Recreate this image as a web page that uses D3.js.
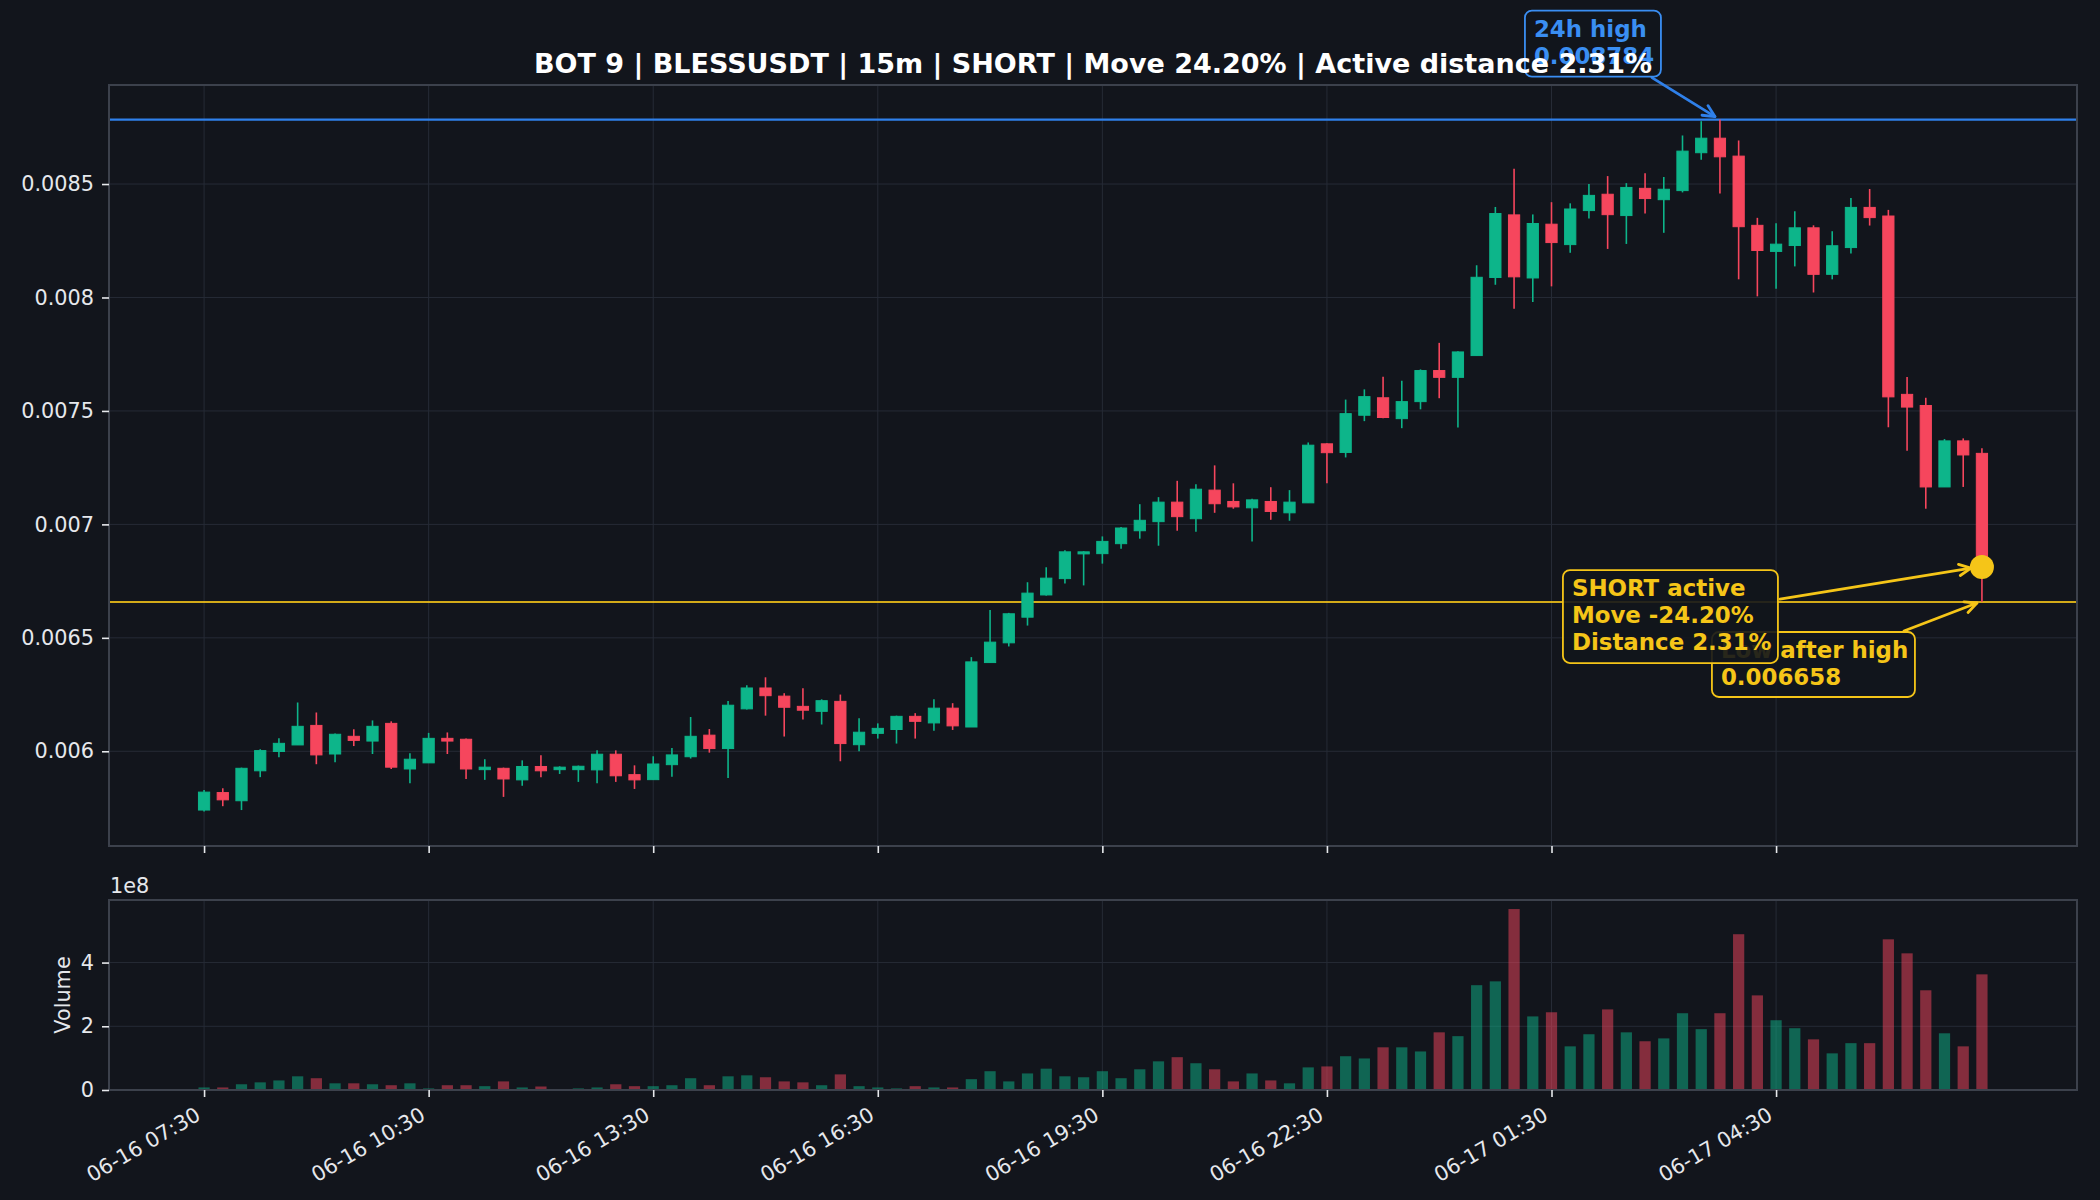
<!DOCTYPE html>
<html>
<head>
<meta charset="utf-8">
<script src="https://cdn.jsdelivr.net/npm/d3@7"></script>
<style>
  body { margin: 0; background: #12151c; }
  text { font-family: "DejaVu Sans", sans-serif; }
</style>
</head>
<body>
<div id="chart"></div>
<script>
/* BLESSUSDT 15m candles + volume, short setup */

// ---- data ----
const startTime = "2025-06-16 07:30";
const stepMinutes = 15;

const opens = [0.005741,0.005818,0.005782,0.005914,0.005999,0.006028,0.006114,0.005988,0.006066,0.006045,
  0.006123,0.005922,0.005949,0.006057,0.006053,0.005919,0.005925,0.005874,0.005933,0.005919,
  0.005919,0.005918,0.005987,0.005897,0.005875,0.005941,0.005976,0.006071,0.006012,0.006187,
  0.006279,0.006243,0.006198,0.006176,0.006220,0.006029,0.006079,0.006096,0.006154,0.006125,
  0.006190,0.006107,0.006391,0.006478,0.006591,0.006689,0.006761,0.006870,0.006871,0.006915,
  0.006972,0.007012,0.007098,0.007025,0.007151,0.007101,0.007073,0.007101,0.007051,0.007095,
  0.007355,0.007317,0.007481,0.007558,0.007466,0.007541,0.007678,0.007648,0.007744,0.008088,
  0.008364,0.008086,0.008323,0.008233,0.008383,0.008455,0.008361,0.008481,0.008431,0.008471,
  0.008638,0.008702,0.008623,0.008318,0.008203,0.008229,0.008307,0.008102,0.008220,0.008397,
  0.008359,0.007573,0.007524,0.007165,0.007368,0.007313];
const highs = [0.005829,0.005837,0.005928,0.006009,0.006057,0.006215,0.006171,0.006078,0.006097,0.006136,
  0.006132,0.005991,0.006081,0.006083,0.006056,0.005965,0.005928,0.005960,0.005982,0.005934,
  0.005937,0.006004,0.006004,0.005938,0.005978,0.006015,0.006151,0.006098,0.006222,0.006291,
  0.006326,0.006256,0.006278,0.006229,0.006250,0.006146,0.006123,0.006157,0.006168,0.006229,
  0.006212,0.006415,0.006623,0.006610,0.006745,0.006811,0.006886,0.006882,0.006947,0.006988,
  0.007089,0.007120,0.007192,0.007177,0.007260,0.007181,0.007113,0.007164,0.007151,0.007361,
  0.007358,0.007550,0.007595,0.007651,0.007633,0.007683,0.007800,0.007763,0.008142,0.008399,
  0.008567,0.008366,0.008420,0.008415,0.008500,0.008535,0.008504,0.008548,0.008531,0.008714,
  0.008777,0.008784,0.008692,0.008351,0.008327,0.008380,0.008318,0.008292,0.008438,0.008478,
  0.008386,0.007650,0.007558,0.007376,0.007379,0.007335];
const lows = [0.005735,0.005758,0.005741,0.005886,0.005974,0.006028,0.005943,0.005952,0.006023,0.005988,
  0.005922,0.005859,0.005949,0.005988,0.005878,0.005874,0.005799,0.005848,0.005886,0.005900,
  0.005865,0.005859,0.005865,0.005834,0.005875,0.005888,0.005968,0.005994,0.005882,0.006184,
  0.006157,0.006065,0.006140,0.006118,0.005956,0.006000,0.006056,0.006034,0.006056,0.006091,
  0.006094,0.006107,0.006391,0.006462,0.006554,0.006686,0.006739,0.006731,0.006827,0.006893,
  0.006937,0.006906,0.006972,0.006968,0.007051,0.007069,0.006924,0.007020,0.007016,0.007095,
  0.007181,0.007295,0.007455,0.007468,0.007424,0.007507,0.007556,0.007427,0.007744,0.008056,
  0.007950,0.007980,0.008049,0.008197,0.008348,0.008214,0.008236,0.008370,0.008285,0.008463,
  0.008607,0.008458,0.008080,0.008005,0.008039,0.008137,0.008022,0.008080,0.008194,0.008317,
  0.007428,0.007324,0.007069,0.007165,0.007165,0.006658];
const closes = [0.005820,0.005786,0.005925,0.006003,0.006035,0.006110,0.005984,0.006075,0.006048,0.006110,
  0.005930,0.005965,0.006057,0.006045,0.005922,0.005930,0.005878,0.005933,0.005914,0.005930,
  0.005934,0.005987,0.005892,0.005874,0.005944,0.005984,0.006066,0.006012,0.006203,0.006279,
  0.006245,0.006194,0.006181,0.006223,0.006034,0.006084,0.006101,0.006154,0.006132,0.006190,
  0.006112,0.006394,0.006481,0.006606,0.006697,0.006763,0.006879,0.006879,0.006925,0.006984,
  0.007018,0.007098,0.007034,0.007155,0.007091,0.007077,0.007108,0.007057,0.007098,0.007349,
  0.007316,0.007488,0.007563,0.007471,0.007541,0.007678,0.007648,0.007760,0.008089,0.008370,
  0.008091,0.008326,0.008242,0.008390,0.008450,0.008365,0.008485,0.008436,0.008477,0.008645,
  0.008702,0.008620,0.008312,0.008207,0.008235,0.008307,0.008102,0.008228,0.008397,0.008352,
  0.007562,0.007517,0.007165,0.007368,0.007306,0.006812];
// volume in units of 1e8
const volumes = [0.08,0.08,0.18,0.24,0.30,0.43,0.37,0.21,0.21,0.18,
  0.15,0.21,0.05,0.15,0.15,0.12,0.27,0.08,0.11,0.01,
  0.05,0.08,0.18,0.12,0.12,0.15,0.37,0.15,0.43,0.46,
  0.40,0.27,0.24,0.15,0.49,0.12,0.08,0.05,0.12,0.08,
  0.08,0.34,0.59,0.27,0.52,0.67,0.43,0.40,0.59,0.37,
  0.65,0.90,1.03,0.84,0.65,0.27,0.52,0.30,0.21,0.71,
  0.74,1.06,0.99,1.34,1.34,1.21,1.81,1.69,3.29,3.41,
  5.68,2.31,2.44,1.37,1.75,2.53,1.81,1.53,1.62,2.41,
  1.91,2.41,4.89,2.97,2.19,1.94,1.59,1.15,1.47,1.47,
  4.73,4.29,3.13,1.78,1.37,3.63];

const xTickLabels = ["06-16 07:30","06-16 10:30","06-16 13:30","06-16 16:30",
                     "06-16 19:30","06-16 22:30","06-17 01:30","06-17 04:30"];
const yTicks = [0.006, 0.0065, 0.007, 0.0075, 0.008, 0.0085];
const volTicks = [0, 2, 4];

const high24 = 0.008784, highIdx = 81;
const lowAfterHigh = 0.006658, activeIdx = 95;
const titleText = "BOT 9 | BLESSUSDT | 15m | SHORT | Move 24.20% | Active distance 2.31%";

// ---- layout / style ----
const width = 2100, height = 1200;
const main = { left: 109, right: 2077, top: 85, bottom: 846 };
const vol = { left: 109, right: 2077, top: 900, bottom: 1090 };

const bg = "#12151c", gridCol = "#262b36", spineCol = "#3c414c", tickCol = "#e6e8ec";
const green = "#0db58a", red = "#f6465d", blue = "#2f80ea", yellow = "#f5c518";
const annFont = 22.9, tickFont = 20.8;

let svg = d3.select("#chart").append("svg")
    .attr("width", width).attr("height", height)
    .attr("viewBox", [0, 0, width, height]);
svg.append("rect").attr("width", width).attr("height", height).attr("fill", bg);

// time scale with matplotlib-style 5% margins around bar edges
const parse = d3.timeParse("%Y-%m-%d %H:%M");
const t0 = parse(startTime);
const stepMs = stepMinutes * 60000;
const times = opens.map((_, i) => new Date(t0.getTime() + i * stepMs));
const barMs = 0.6 * stepMs;
const span = times[times.length - 1] - times[0] + barMs;
const x = d3.scaleTime()
    .domain([new Date(+times[0] - barMs / 2 - 0.05 * span),
             new Date(+times[times.length - 1] + barMs / 2 + 0.05 * span)])
    .range([main.left, main.right]);
const xTicks = xTickLabels.map(s => parse("2025-" + s));
const barW = x(new Date(+t0 + barMs)) - x(t0);

const lo = d3.min(lows), hi = d3.max(highs);
const y = d3.scaleLinear()
    .domain([lo - 0.05 * (hi - lo), hi + 0.05 * (hi - lo)])
    .range([main.bottom, main.top]);

const yv = d3.scaleLinear()
    .domain([0, d3.max(volumes) * 1.05])
    .range([vol.bottom, vol.top]);

// grids
function grid(g, box, ys) {
    g.selectAll(".gx").data(xTicks).join("line")
        .attr("x1", d => x(d)).attr("x2", d => x(d))
        .attr("y1", box.top).attr("y2", box.bottom)
        .attr("stroke", gridCol).attr("stroke-width", 1);
    g.selectAll(".gy").data(ys).join("line")
        .attr("x1", box.left).attr("x2", box.right)
        .attr("y1", d => d).attr("y2", d => d)
        .attr("stroke", gridCol).attr("stroke-width", 1);
}
grid(svg.append("g"), main, yTicks.map(y));
grid(svg.append("g"), vol, volTicks.map(yv));

// reference lines
svg.append("line").attr("x1", main.left).attr("x2", main.right)
    .attr("y1", y(high24)).attr("y2", y(high24))
    .attr("stroke", blue).attr("stroke-width", 2.4);
svg.append("line").attr("x1", main.left).attr("x2", main.right)
    .attr("y1", y(lowAfterHigh)).attr("y2", y(lowAfterHigh))
    .attr("stroke", yellow).attr("stroke-width", 2).attr("opacity", 0.85);

// candles
const candles = opens.map((o, i) => ({ t: times[i], o, h: highs[i], l: lows[i], c: closes[i], v: volumes[i] }));
let cg = svg.append("g").selectAll("g").data(candles).join("g")
    .attr("fill", d => d.c >= d.o ? green : red)
    .attr("stroke", d => d.c >= d.o ? green : red);
cg.append("line")
    .attr("x1", d => x(d.t)).attr("x2", d => x(d.t))
    .attr("y1", d => y(d.h)).attr("y2", d => y(d.l))
    .attr("stroke-width", 1.6);
cg.append("rect")
    .attr("x", d => x(d.t) - barW / 2).attr("width", barW)
    .attr("y", d => y(Math.max(d.o, d.c)))
    .attr("height", d => Math.max(1, Math.abs(y(d.o) - y(d.c))))
    .attr("stroke-width", 1);

// volume bars
svg.append("g").selectAll("rect").data(candles).join("rect")
    .attr("x", d => x(d.t) - barW / 2).attr("width", barW)
    .attr("y", d => yv(d.v)).attr("height", d => yv(0) - yv(d.v))
    .attr("fill", d => d.c >= d.o ? green : red)
    .attr("opacity", 0.5);

// spines
for (const b of [main, vol]) {
    svg.append("rect").attr("x", b.left).attr("y", b.top)
        .attr("width", b.right - b.left).attr("height", b.bottom - b.top)
        .attr("fill", "none").attr("stroke", spineCol).attr("stroke-width", 2);
}

// axes
function styleAxis(g) {
    g.select(".domain").remove();
    g.selectAll(".tick line").attr("stroke", tickCol).attr("stroke-width", 1.6);
    g.selectAll(".tick text").attr("fill", tickCol).attr("font-size", tickFont)
        .attr("font-family", "DejaVu Sans");
}
svg.append("g").attr("transform", `translate(${main.left},0)`)
    .call(d3.axisLeft(y).tickValues(yTicks).tickFormat(d3.format("~g")).tickSize(7).tickPadding(8))
    .call(styleAxis);
svg.append("g").attr("transform", `translate(0,${main.bottom})`)
    .call(d3.axisBottom(x).tickValues(xTicks).tickFormat("").tickSize(7))
    .call(styleAxis);
svg.append("g").attr("transform", `translate(${vol.left},0)`)
    .call(d3.axisLeft(yv).tickValues(volTicks).tickFormat(d3.format("d")).tickSize(7).tickPadding(8))
    .call(styleAxis);
svg.append("g").attr("transform", `translate(0,${vol.bottom})`)
    .call(d3.axisBottom(x).tickValues(xTicks).tickFormat(d3.timeFormat("%m-%d %H:%M")).tickSize(7))
    .call(styleAxis)
    .selectAll(".tick text")
    .attr("y", null).attr("dy", null).attr("x", null)
    .attr("text-anchor", "end")
    .attr("transform", "translate(-2.5,29) rotate(-30)");

svg.append("text").attr("x", vol.left + 1).attr("y", vol.top - 7)
    .attr("fill", tickCol).attr("font-size", tickFont).text("1e8");
svg.append("text")
    .attr("transform", `translate(70,${(vol.top + vol.bottom) / 2}) rotate(-90)`)
    .attr("text-anchor", "middle").attr("fill", tickCol).attr("font-size", tickFont).text("Volume");

// annotations
function arrow(x1, y1, x2, y2, col) {
    const a = Math.atan2(y2 - y1, x2 - x1), L = 13, w = 0.45;
    svg.append("line").attr("x1", x1).attr("y1", y1).attr("x2", x2).attr("y2", y2)
        .attr("stroke", col).attr("stroke-width", 2.8).attr("stroke-linecap", "round");
    svg.append("path")
        .attr("d", `M${x2 - L * Math.cos(a - w)},${y2 - L * Math.sin(a - w)}L${x2},${y2}L${x2 - L * Math.cos(a + w)},${y2 - L * Math.sin(a + w)}`)
        .attr("fill", "none").attr("stroke", col).attr("stroke-width", 2.8)
        .attr("stroke-linecap", "round").attr("stroke-linejoin", "round");
}
function box(lines, bx, by, bw, bh, col, opacity) {
    svg.append("rect").attr("x", bx).attr("y", by).attr("width", bw).attr("height", bh)
        .attr("rx", 7).attr("fill", bg).attr("fill-opacity", opacity)
        .attr("stroke", col).attr("stroke-width", 1.8);
    const t = svg.append("text").attr("fill", col).attr("font-size", annFont).attr("font-weight", "bold");
    lines.forEach((s, k) => t.append("tspan").attr("x", bx + 9).attr("y", by + 26 + k * 27).text(s));
}

// low after high
const lx = x(times[activeIdx]), ly = y(lowAfterHigh);
arrow(lx - 78, ly + 29, lx - 5, ly + 1, yellow);
box(["Low after high", lowAfterHigh.toFixed(6)], lx - 270, ly + 30, 203, 65, yellow, 0.85);

// short active marker
const dx = x(times[activeIdx]), dy = y(closes[activeIdx]);
arrow(dx - 202, dy + 32, dx - 11, dy + 1, yellow);
svg.append("circle").attr("cx", dx).attr("cy", dy).attr("r", 12).attr("fill", yellow);
box(["SHORT active", "Move -24.20%", "Distance 2.31%"], dx - 419, dy + 3, 215, 93, yellow, 0.9);

// 24h high
const hx = x(times[highIdx]), hy = y(high24);
arrow(hx - 68, hy - 42, hx - 5, hy - 3, blue);
box(["24h high", high24.toFixed(6)], hx - 195, hy - 109, 136, 66, "#3a8ef2", 0.85);

// title
svg.append("text").attr("x", (main.left + main.right) / 2).attr("y", 73)
    .attr("text-anchor", "middle").attr("fill", "#ffffff")
    .attr("font-size", 27).attr("font-weight", "bold").text(titleText);
</script>
</body>
</html>
